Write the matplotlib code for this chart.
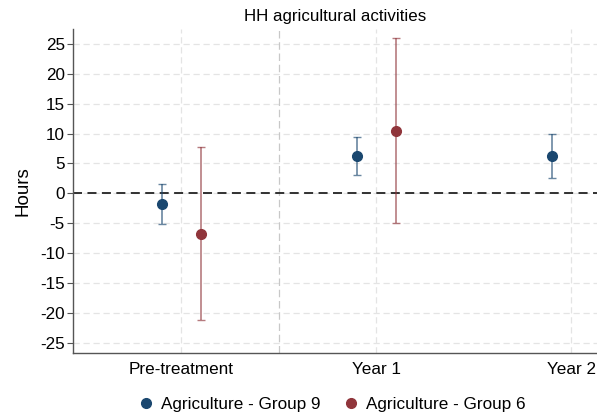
import matplotlib
matplotlib.use('Agg')
import matplotlib.pyplot as plt
from matplotlib.lines import Line2D

plt.rcParams['font.family'] = ['Liberation Sans', 'DejaVu Sans']
plt.rcParams['axes.unicode_minus'] = False

# Dane
periods = ['Pre-treatment', 'Year 1', 'Year 2']
g9_est = [-1.8, 6.3, 6.3]
g9_lo = [-5.1, 3.1, 2.6]
g9_hi = [1.6, 9.5, 10.0]
g6_est = [-6.8, 10.5]
g6_lo = [-21.3, -4.9]
g6_hi = [7.8, 26.0]
y_ticks = list(range(-25, 30, 5))

blue = '#1a476f'
red = '#90353b'

fig = plt.figure(figsize=(5.97, 4.18), dpi=100)
ax = fig.add_axes([0.1223, 0.1562, 0.8777, 0.7744])

# siatka
for yt in y_ticks:
    ax.axhline(yt, color='#e4e4e4', lw=0.9, ls=(0, (5, 3)), zorder=0)
for xt in range(len(periods)):
    ax.axvline(xt, color='#e4e4e4', lw=0.9, ls=(0, (5, 3)), zorder=0)
ax.axvline(0.5, color='#c8c8c8', lw=0.9, ls=(0, (6, 3)), zorder=0)
ax.axhline(0, color='#222222', lw=1.3, ls=(0, (5, 3)), zorder=1)

def draw(xs, est, lo, hi, color, label):
    err = [[e - l for e, l in zip(est, lo)], [h - e for e, h in zip(est, hi)]]
    ax.errorbar(xs, est, yerr=err, fmt='none', ecolor=color, alpha=0.65,
                elinewidth=1.2, capsize=3, capthick=1.0, zorder=2)
    ax.plot(xs, est, 'o', color=color, ms=7, zorder=3, label=label)

draw([i - 0.1 for i in range(len(g9_est))], g9_est, g9_lo, g9_hi, blue, 'Agriculture - Group 9')
draw([i + 0.1 for i in range(len(g6_est))], g6_est, g6_lo, g6_hi, red, 'Agriculture - Group 6')

ax.set_xlim(-0.554, 2.133)
ax.set_ylim(-26.7, 27.5)
ax.set_xticks(range(len(periods)))
ax.set_xticklabels(periods)
ax.set_yticks(y_ticks)
ax.tick_params(axis='x', length=0, labelsize=12.3, pad=7)
ax.tick_params(axis='y', length=4, labelsize=12.3, color='#555555', pad=2)
for s in ['top', 'right']:
    ax.spines[s].set_visible(False)
for s in ['left', 'bottom']:
    ax.spines[s].set_color('#555555')
    ax.spines[s].set_linewidth(1.0)

ax.set_ylabel('Hours', fontsize=13.5, labelpad=6)
ax.set_title('HH agricultural activities', fontsize=12.2, pad=6)

handles = [Line2D([], [], marker='o', color=blue, ls='none', ms=7),
           Line2D([], [], marker='o', color=red, ls='none', ms=7)]
fig.legend(handles, ['Agriculture - Group 9', 'Agriculture - Group 6'],
           loc='center', bbox_to_anchor=(0.554, 0.033), ncol=2, frameon=False,
           fontsize=12.3, handlelength=1.2, handletextpad=0.25, columnspacing=1.2)

fig.savefig('out.png', dpi=100)
